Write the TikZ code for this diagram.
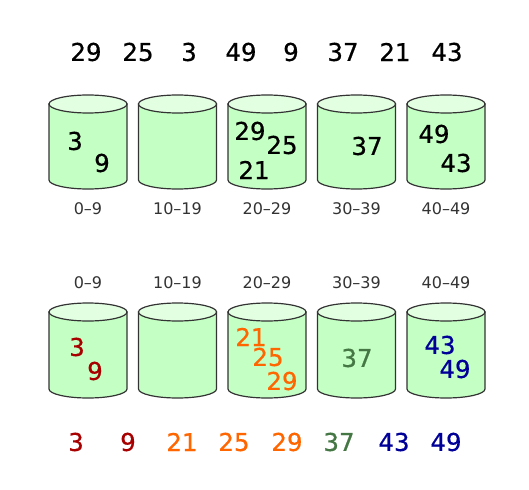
\documentclass[tikz,border=0pt]{standalone}
\usepackage{fontspec}
\setmainfont{DejaVu Sans}
\newfontfamily\numfont[FakeBold=0.6]{DejaVu Sans}
\definecolor{cred}{HTML}{A80000}
\definecolor{corange}{HTML}{FF6600}
\definecolor{cgreen}{HTML}{447744}
\definecolor{cblue}{HTML}{000099}
\definecolor{bodyfill}{HTML}{C4FFC4}
\definecolor{topfill}{HTML}{E2FFE2}
\definecolor{edge}{HTML}{333333}
\begin{document}
\begin{tikzpicture}[x=1pt,y=1pt,
  num/.style={font=\numfont\fontsize{24.5}{24.5}\selectfont, inner sep=0pt},
  lab/.style={font=\fontsize{16}{16}\selectfont, text=edge, inner sep=0pt},
  cyl/.style={draw=edge, line width=1.2pt, fill=bodyfill},
  cyltop/.style={draw=edge, line width=1.2pt, fill=topfill}]
\useasboundingbox (0,0) rectangle (529,-489);
\fill[white] (0,0) rectangle (529,-489);
% input sequence
\foreach \v/\x [count=\i] in {29/86,25/138,3/189,49/241,9/291,37/343,21/395,43/447}
  \node[num] (in\i) at (\x,-52) {\v};
% cylinders
\foreach \cx [count=\i] in {88,177.5,267,356.5,446}{
  \foreach \ty/\by/\r in {104/180/a,312/389/b}{
    \path[cyl] (\cx-39,-\ty) -- (\cx-39,-\by) arc[start angle=180,end angle=360,x radius=39,y radius=9] -- (\cx+39,-\ty) -- cycle;
    \path[cyltop] (\cx,-\ty) ellipse [x radius=39, y radius=9];
  }
}
% labels
\foreach \t/\x [count=\i] in {0–9/88,10–19/177.5,20–29/267,30–39/356.5,40–49/446}{
  \node[lab] (la\i) at (\x,-209) {\t};
  \node[lab] (lb\i) at (\x,-283) {\t};
}
% top row contents
\node[num] (a3) at (75,-141) {3};
\node[num] (a9) at (102,-163) {9};
\node[num] (a29) at (250,-131) {29};
\node[num] (a25) at (282,-145) {25};
\node[num] (a21) at (254,-170) {21};
\node[num] (a37) at (367,-146) {37};
\node[num] (a49) at (434,-134) {49};
\node[num] (a43) at (456,-163) {43};
% bottom row contents
\node[num,text=cred] (b3) at (77,-347) {3};
\node[num,text=cred] (b9) at (95,-371) {9};
\node[num,text=corange] (b21) at (251,-337) {21};
\node[num,text=corange] (b25) at (268,-357) {25};
\node[num,text=corange] (b29) at (282,-381) {29};
\node[num,text=cgreen] (b37) at (357,-358) {37};
\node[num,text=cblue] (b43) at (440,-345) {43};
\node[num,text=cblue] (b49) at (455,-369) {49};
% output sequence
\foreach \v/\x/\c [count=\i] in {3/76/cred,9/128/cred,21/182/corange,25/234/corange,29/287/corange,37/339/cgreen,43/394/cblue,49/446/cblue}
  \node[num,text=\c] (out\i) at (\x,-442) {\v};
\end{tikzpicture}
\end{document}
